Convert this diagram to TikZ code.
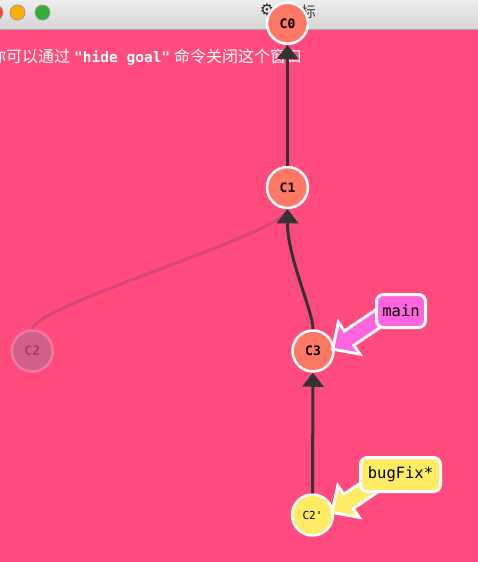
\documentclass[tikz,border=0pt]{standalone}
\usepackage{fontspec}
\usepackage{tikz}
\usetikzlibrary{arrows.meta}

\newfontfamily\monofnt{DejaVu Sans Mono}
\newfontfamily\cjkfnt{Noto Sans CJK SC}
\newfontfamily\symfnt{DejaVu Sans}

\definecolor{bgpink}{RGB}{255,75,125}
\definecolor{commitred}{RGB}{255,120,102}
\definecolor{commityellow}{RGB}{255,236,100}
\definecolor{mainpink}{RGB}{255,102,221}
\definecolor{edgegray}{RGB}{51,51,51}
\definecolor{fadefill}{RGB}{210,94,138}
\definecolor{fadering}{RGB}{238,122,162}
\definecolor{fadetext}{RGB}{172,56,102}
\definecolor{fadeedge}{RGB}{214,70,120}

% fat arrow of a branch label, tip at the origin, tail along +x
\newcommand{\labelarrowpath}{(0,0) -- (16,15.5) -- (16,7) -- (62,7) -- (62,-7) -- (16,-7) -- (16,-15.5) -- cycle}

\begin{document}
\begin{tikzpicture}[x=1pt,y=-1pt,
  commit/.style={circle,draw=white,line width=2.5pt,minimum size=41pt,inner sep=0pt,
    fill=commitred,text=black,font=\monofnt\bfseries\fontsize{13}{13}\selectfont},
  faded/.style={fill=fadefill,draw=fadering,text=fadetext},
  commitedge/.style={draw=edgegray,line width=3pt,-{Triangle[length=14pt,width=22pt,line width=0pt]}},
  fadededge/.style={draw=fadeedge,line width=3pt},
  labelarrow/.style={fill=#1,preaction={draw=white,line width=6pt,line join=miter}},
  branchlabel/.style={draw=white,line width=3pt,rounded corners=7pt,inner sep=0pt,
    text=black,font=\monofnt\fontsize{15.5}{15.5}\selectfont}]

  \useasboundingbox (0,0) rectangle (478,562);

  % window
  \shade[top color=black!7,bottom color=black!17] (0,0) rectangle (478,30);
  \draw[black!35] (0,29.5) -- (478,29.5);
  \fill[bgpink] (0,30) rectangle (478,562);
  \foreach \x/\c in {-4.5/red!75!white,17.5/orange!65!yellow,42.5/green!60!black!80!white}
    \draw[black!40,line width=0.8pt,fill=\c] (\x,12.5) circle (7.5);
  \node[text=black!85] (gear) at (267,10) {\symfnt\fontsize{16}{16}\selectfont ⚙};
  \node[anchor=base east,inner sep=0pt,text=black!75] (title) at (316,17)
    {\cjkfnt\fontsize{15}{15}\selectfont 目标};

  \node[anchor=base west,inner sep=0pt,text=white] (hint) at (-10,62)
    {\cjkfnt\fontsize{16}{16}\selectfont 你可以通过\hspace{4pt}{\monofnt\bfseries\fontsize{14.5}{14.5}\selectfont "hide goal"}\hspace{4pt}命令关闭这个窗口};

  % commits
  \node[commit] (C0) at (287.5,23.3) {C0};
  \node[commit] (C1) at (287.5,187.5) {C1};
  \node[commit,faded] (C2) at (32.3,351) {C2};
  \node[commit] (C3) at (313,351) {C3};
  \node[commit,fill=commityellow,font=\monofnt\fontsize{11}{11}\selectfont] (C2p) at (312.5,515) {C2'};

  \draw[fadededge] (C2) .. controls +(0,-45) and +(0,45) .. (C1);
  \draw[commitedge] (C1) -- (C0);
  \draw[commitedge] (C3) .. controls +(0,-40) and +(0,70) .. (C1);
  \draw[commitedge] (C2p) -- (C3);

  % branches
  \begin{scope}[shift={(C3.8)},rotate=34]
    \path[labelarrow=mainpink] \labelarrowpath;
  \end{scope}
  \begin{scope}[shift={(C2p.10)},rotate=34]
    \path[labelarrow=commityellow] \labelarrowpath;
  \end{scope}

  \node[branchlabel,fill=mainpink,minimum width=49pt,minimum height=33pt] (main) at (401,311) {main};
  \node[branchlabel,fill=commityellow,minimum width=80pt,minimum height=34pt] (bugFix) at (400.5,474.5) {bugFix*};
\end{tikzpicture}
\end{document}
